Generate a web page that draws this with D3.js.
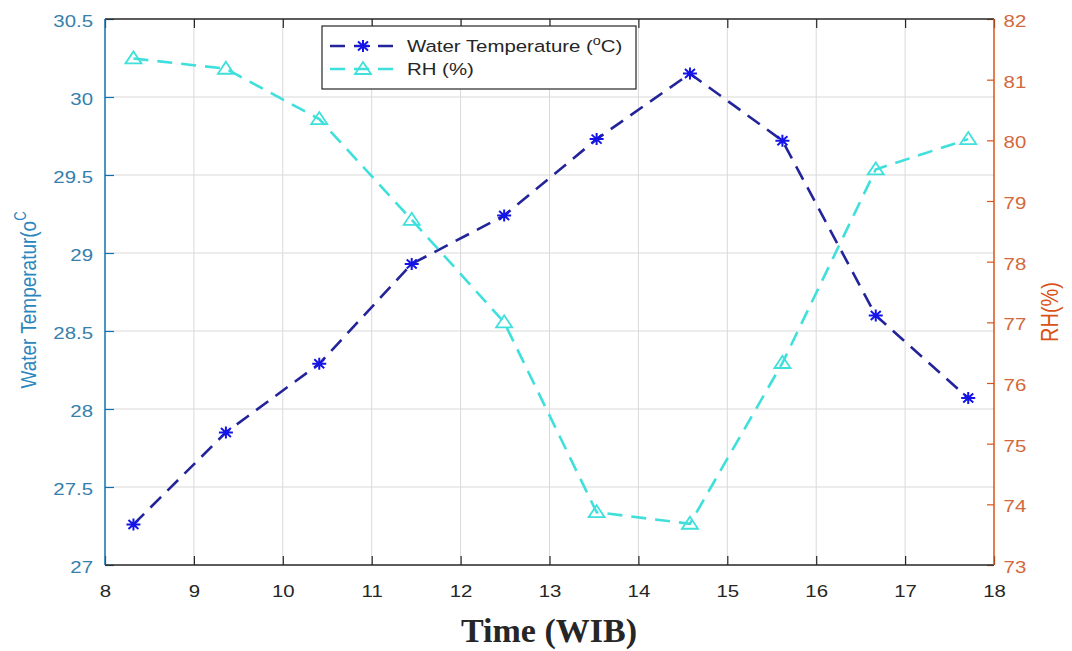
<!DOCTYPE html>
<html><head><meta charset="utf-8">
<script src="https://cdn.jsdelivr.net/npm/d3@7"></script>
<style>body{margin:0;background:#fff}</style>
</head><body>
<svg id="c" width="1072" height="651"></svg>
<script>
// ---- data ----
const times = [8.32, 9.36, 10.41, 11.45, 12.49, 13.53, 14.58, 15.62, 16.67, 17.71];
const waterTemp = [27.26, 27.85, 28.29, 28.93, 29.24, 29.73, 30.15, 29.72, 28.60, 28.07];
const rh = [81.35, 81.18, 80.35, 78.69, 77.0, 73.87, 73.68, 76.33, 79.52, 80.02];
const xTicks = [8, 9, 10, 11, 12, 13, 14, 15, 16, 17, 18];
const leftTicks = [27, 27.5, 28, 28.5, 29, 29.5, 30, 30.5];
const rightTicks = [73, 74, 75, 76, 77, 78, 79, 80, 81, 82];

const svg = d3.select('#c');
const L = 105, R = 994, T = 19, B = 565;
const x = d3.scaleLinear().domain([8, 18]).range([L, R]);
const yL = d3.scaleLinear().domain([27, 30.5]).range([B, T]);
const yR = d3.scaleLinear().domain([73, 82]).range([B, T]);
const SX = 1.2; // horizontal text stretch of the reference

const leftCol = '#0f72b0', leftTxt = '#3580ac', rightCol = '#D95319', rightTxt = '#d2683c', dark = '#262626';
const font = '"Liberation Sans", Arial, sans-serif';

svg.append('rect').attr('x', L).attr('y', T).attr('width', R - L).attr('height', B - T).attr('fill', '#fff');

// grid
const g = svg.append('g');
g.selectAll('.vg').data(xTicks.slice(1, -1)).enter().append('line')
  .attr('x1', d => x(d)).attr('x2', d => x(d)).attr('y1', T).attr('y2', B)
  .attr('stroke', '#d9d9d9').attr('stroke-width', 1);
g.selectAll('.hg').data(leftTicks.slice(1, -1)).enter().append('line')
  .attr('x1', L).attr('x2', R).attr('y1', d => yL(d)).attr('y2', d => yL(d))
  .attr('stroke', '#d9d9d9').attr('stroke-width', 1);

function styleAxis(sel, lineCol, txtCol, size) {
  sel.select('.domain').remove();
  sel.selectAll('.tick line').attr('stroke', lineCol).attr('stroke-width', 1.2);
  sel.selectAll('.tick text').attr('fill', txtCol).attr('font-family', font).attr('font-size', size)
    .attr('transform', `scale(${SX},1)`);
}

// bottom axis
const xb = svg.append('g').attr('transform', `translate(0,${B})`)
  .call(d3.axisBottom(x).tickValues(xTicks).tickSize(-9).tickPadding(20).tickFormat(d3.format('d')));
styleAxis(xb, dark, dark, 17);
// top ticks
const xt = svg.append('g').attr('transform', `translate(0,${T})`)
  .call(d3.axisTop(x).tickValues(xTicks).tickSize(-9).tickFormat(''));
styleAxis(xt, dark, dark, 17);

// left axis
const yl = svg.append('g').attr('transform', `translate(${L},0)`)
  .call(d3.axisLeft(yL).tickValues(leftTicks).tickSize(-9).tickPadding(10).tickFormat(d => d3.format('')(d)));
styleAxis(yl, leftCol, leftTxt, 17);
yl.selectAll('.tick text').attr('dy', '0.45em');

// right axis
const yr = svg.append('g').attr('transform', `translate(${R},0)`)
  .call(d3.axisRight(yR).tickValues(rightTicks).tickSize(-7).tickPadding(8).tickFormat(d3.format('d')));
styleAxis(yr, rightCol, rightTxt, 17);
yr.selectAll('.tick text').attr('dy', '0.45em');

// frame lines
svg.append('line').attr('x1', L).attr('x2', R).attr('y1', B).attr('y2', B).attr('stroke', dark).attr('stroke-width', 1.5);
svg.append('line').attr('x1', L).attr('x2', R).attr('y1', T).attr('y2', T).attr('stroke', dark).attr('stroke-width', 1.5);
svg.append('line').attr('x1', L).attr('x2', L).attr('y1', T).attr('y2', B).attr('stroke', leftCol).attr('stroke-width', 1.5);
svg.append('line').attr('x1', R).attr('x2', R).attr('y1', T).attr('y2', B).attr('stroke', rightCol).attr('stroke-width', 1.5);

// series
const wtLineCol = '#23239a', wtMarkCol = '#1414e6', rhCol = '#3fe0dc';
const wtData = times.map((t, i) => [t, waterTemp[i]]);
const rhData = times.map((t, i) => [t, rh[i]]);

svg.append('path').datum(wtData)
  .attr('d', d3.line().x(d => x(d[0])).y(d => yL(d[1])))
  .attr('fill', 'none').attr('stroke', wtLineCol).attr('stroke-width', 2.6).attr('stroke-dasharray', '15,9');
svg.append('path').datum(rhData)
  .attr('d', d3.line().x(d => x(d[0])).y(d => yR(d[1])))
  .attr('fill', 'none').attr('stroke', rhCol).attr('stroke-width', 2.6).attr('stroke-dasharray', '15,9');

const starPath = 'M-7,0H7M0,-6V6M-5,-4.5L5,4.5M-5,4.5L5,-4.5';
const triPath = 'M0,-7L8,5L-8,5Z';
svg.selectAll('.star').data(wtData).enter().append('path')
  .attr('d', starPath).attr('transform', d => `translate(${x(d[0])},${yL(d[1])})`)
  .attr('stroke', wtMarkCol).attr('stroke-width', 2).attr('fill', 'none');
svg.selectAll('.tri').data(rhData).enter().append('path')
  .attr('d', triPath).attr('transform', d => `translate(${x(d[0])},${yR(d[1])})`)
  .attr('stroke', rhCol).attr('stroke-width', 1.8).attr('fill', 'none');

// legend
const lg = svg.append('g');
lg.append('rect').attr('x', 322).attr('y', 26).attr('width', 314).attr('height', 63)
  .attr('fill', '#fff').attr('stroke', dark).attr('stroke-width', 1.2);
const legendRows = [
  { y: 46, col: wtLineCol, mcol: wtMarkCol, mark: starPath, sw: 2 },
  { y: 69, col: rhCol, mcol: rhCol, mark: triPath, sw: 1.8 }
];
legendRows.forEach(r => {
  lg.append('line').attr('x1', 330).attr('x2', 396).attr('y1', r.y).attr('y2', r.y)
    .attr('stroke', r.col).attr('stroke-width', 2.6).attr('stroke-dasharray', '15,9');
  lg.append('path').attr('d', r.mark).attr('transform', `translate(363,${r.y})`)
    .attr('stroke', r.mcol).attr('stroke-width', r.sw).attr('fill', 'none');
});
const t1 = lg.append('text').attr('transform', `translate(407,${46 + 6}) scale(${SX},1)`)
  .attr('font-family', font).attr('font-size', 17).attr('fill', dark);
t1.append('tspan').text('Water Temperature (');
t1.append('tspan').attr('font-size', 12).attr('dy', -7).text('o');
t1.append('tspan').attr('dy', 7).text('C)');
lg.append('text').attr('transform', `translate(407,${69 + 6}) scale(${SX},1)`)
  .attr('font-family', font).attr('font-size', 17).attr('fill', dark).text('RH (%)');

// axis titles
const yl1 = svg.append('text').attr('transform', `translate(36,${(T + B) / 2 + 8}) rotate(-90) scale(1,${SX})`)
  .attr('text-anchor', 'middle').attr('font-family', font).attr('font-size', 19).attr('fill', '#2a86bd');
yl1.append('tspan').text('Water Temperatur(o');
yl1.append('tspan').attr('font-size', 13).attr('dy', -8).text('C');

svg.append('text').attr('transform', `translate(1058,${(T + B) / 2 + 20}) rotate(-90) scale(1,${SX})`)
  .attr('text-anchor', 'middle').attr('font-family', font).attr('font-size', 20).attr('fill', rightCol)
  .text('RH(%)');

svg.append('text').attr('x', 549).attr('y', 642).attr('text-anchor', 'middle')
  .attr('font-family', '"Liberation Serif", "Times New Roman", serif').attr('font-weight', 'bold')
  .attr('font-size', 34).attr('fill', dark).text('Time (WIB)');
</script>
</body></html>
